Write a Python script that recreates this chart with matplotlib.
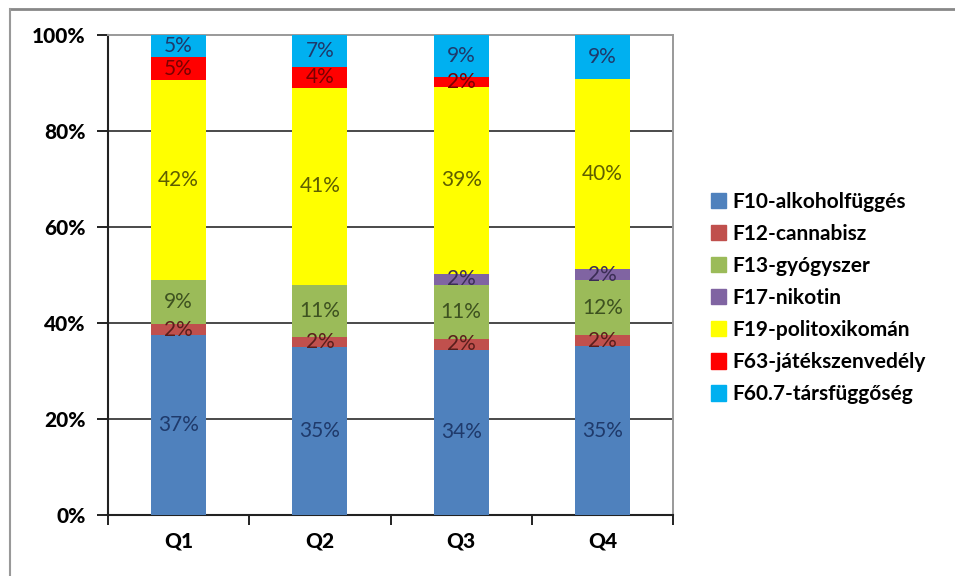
import matplotlib
matplotlib.use("Agg")
import matplotlib.pyplot as plt
from matplotlib.lines import Line2D
import numpy as np

categories = ["Q1", "Q2", "Q3", "Q4"]
series_names = ["F10-alkoholfüggés", "F12-cannabisz", "F13-gyógyszer", "F17-nikotin",
                "F19-politoxikomán", "F63-játékszenvedély", "F60.7-társfüggőség"]
f10 = [37.4, 35.0, 34.4, 35.2]
f12 = [2.4, 2.1, 2.3, 2.2]
f13 = [9.2, 10.8, 11.3, 11.6]
f17 = [0.0, 0.0, 2.3, 2.2]
f19 = [41.6, 41.1, 38.9, 39.6]
f63 = [4.8, 4.3, 2.1, 0.0]
f607 = [4.6, 6.7, 8.7, 9.2]
y_ticks = [0, 20, 40, 60, 80, 100]

colors = ["#4F81BD", "#C0504D", "#9BBB59", "#8064A2", "#FFFF00", "#FF0000", "#00B0F0"]
label_colors = ["#1F3A6B", "#5A1E1C", "#3E5220", "#3B2D55", "#5E5E00", "#7A0000", "#1F3A6B"]

plt.rcParams['font.family'] = ['Lato', 'DejaVu Sans']

fig = plt.figure(figsize=(9.55, 5.76), dpi=100)
ax = fig.add_axes([108/955, 1-515/576, (673-108)/955, (515-35)/576])

data = np.array([f10, f12, f13, f17, f19, f63, f607])
totals = data.sum(axis=0)
pct = data / totals * 100

x = np.arange(len(categories))
bottom = np.zeros(len(categories))
for i, name in enumerate(series_names):
    ax.bar(x, pct[i], bottom=bottom, width=0.39, color=colors[i], zorder=3, label=name)
    for j in range(len(categories)):
        v = data[i][j]
        if round(v) > 0:
            ax.text(x[j], bottom[j] + pct[i][j] / 2, f"{round(v)}%", ha="center", va="center",
                    fontsize=15, color=label_colors[i], zorder=4)
    bottom += pct[i]

ax.set_xlim(-0.5, len(categories) - 0.5)
ax.set_ylim(0, 100)
ax.set_yticks(y_ticks)
ax.set_yticklabels([f"{t}%" for t in y_ticks], fontsize=15, fontweight="black")
ax.set_xticks(x)
ax.set_xticklabels(categories, fontsize=15, fontweight="black")
ax.set_xticks(np.arange(-0.5, len(categories)), minor=True)
ax.tick_params(axis="x", which="major", length=0, pad=12)
ax.tick_params(axis="x", which="minor", length=7, width=1.4, direction="out", color="#222222")
ax.tick_params(axis="y", length=8, width=1.4, direction="out", color="#222222", pad=8)

for t in y_ticks[1:-1]:
    ax.axhline(t, color="#4a4a4a", linewidth=1.4, zorder=1)

for s in ["left", "bottom"]:
    ax.spines[s].set_color("#222222")
    ax.spines[s].set_linewidth(1.5)
for s in ["top", "right"]:
    ax.spines[s].set_color("#999999")
    ax.spines[s].set_linewidth(1.4)

leg_handles = [plt.Rectangle((0, 0), 1, 1, color=c) for c in colors]
fig.legend(leg_handles, series_names, loc="center left", bbox_to_anchor=(692/955, 1-298/576),
           frameon=False, handlelength=0.75, handleheight=0.75,
           handletextpad=0.3, labelspacing=0.58, prop={"weight": "bold", "size": 15})

# outer chart frame
fig.add_artist(Line2D([10/955, 1.0], [1-9/576, 1-9/576], transform=fig.transFigure,
                      color="#888888", linewidth=2))
fig.add_artist(Line2D([10/955, 10/955], [0.0, 1-9/576], transform=fig.transFigure,
                      color="#999999", linewidth=1.5))

fig.savefig("out.png", dpi=100)
